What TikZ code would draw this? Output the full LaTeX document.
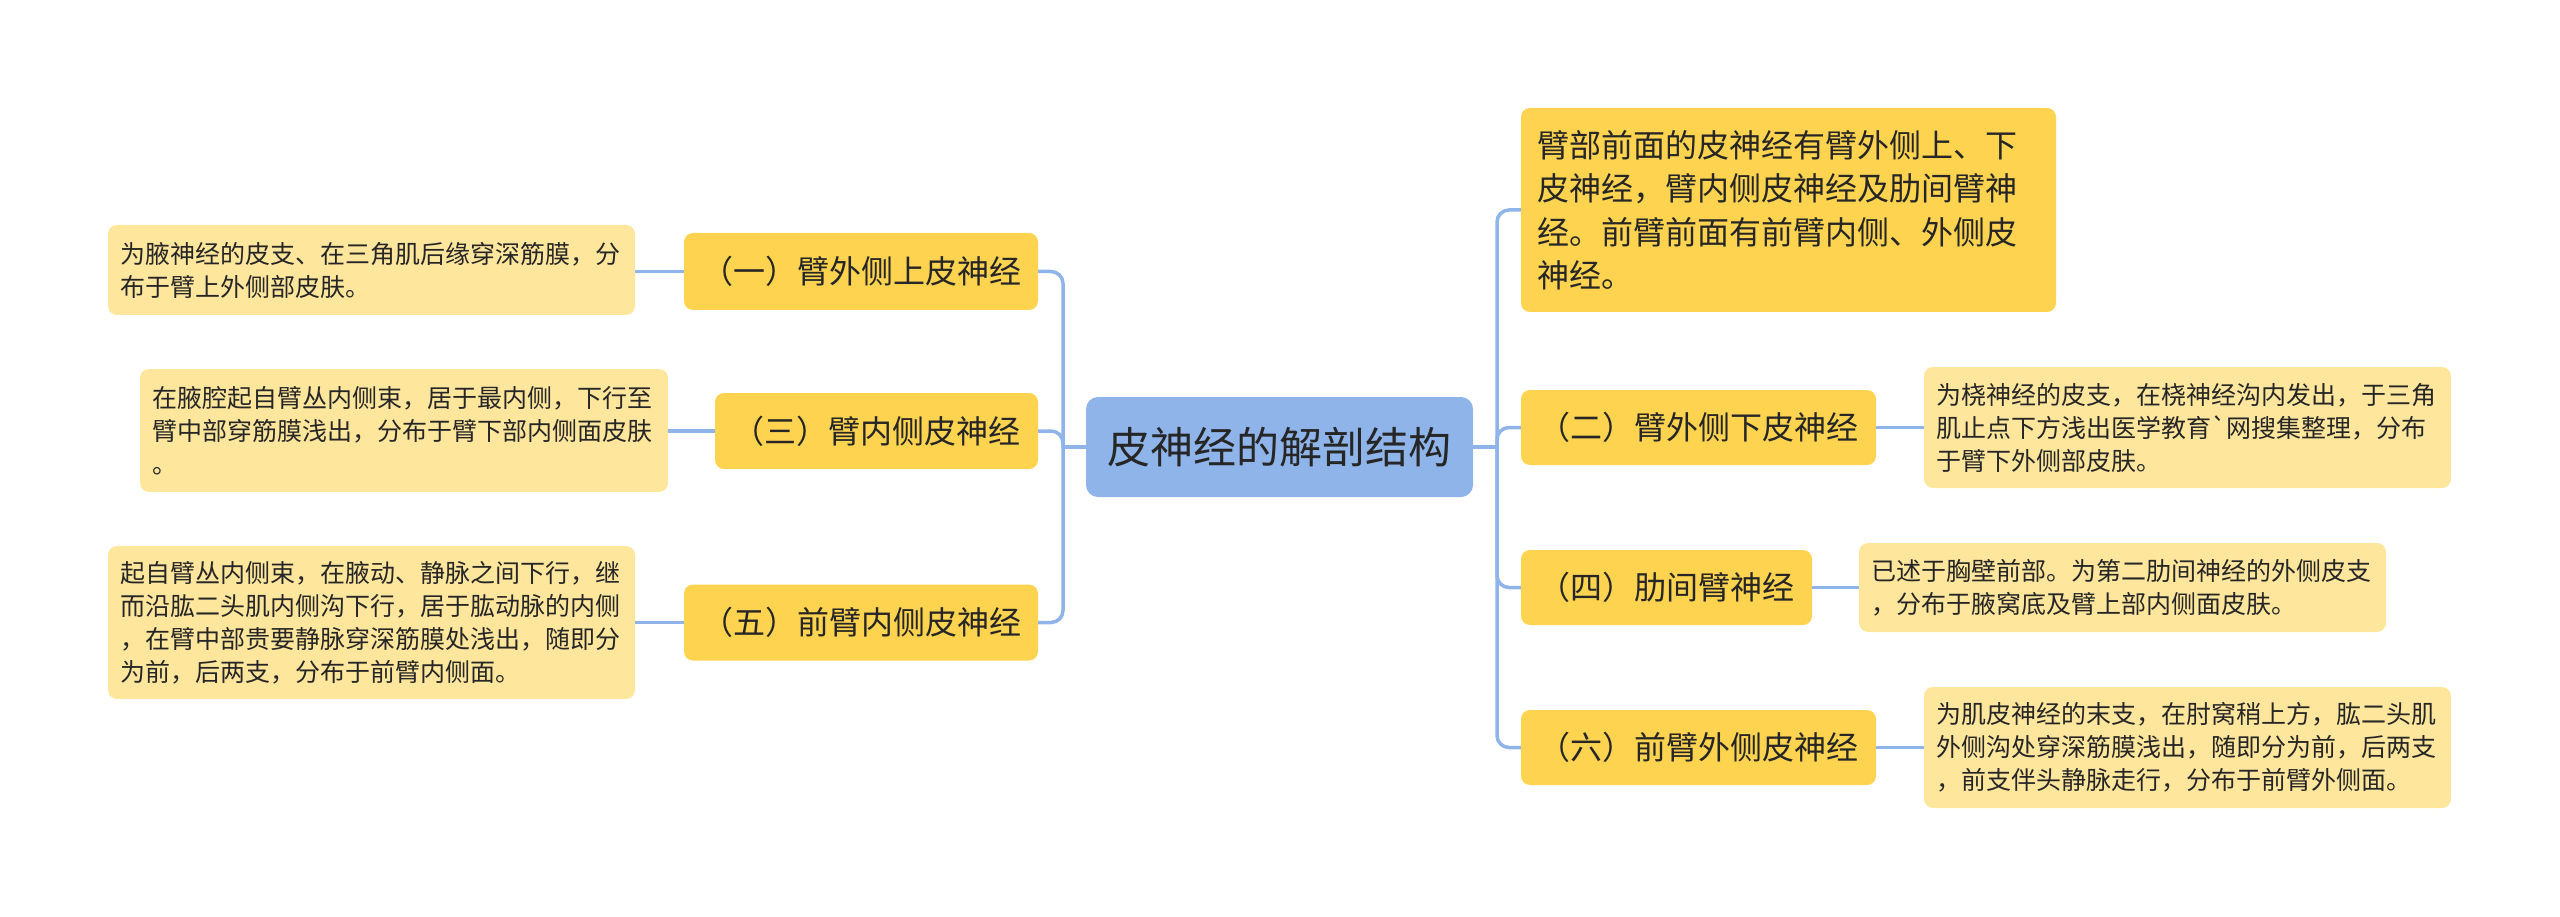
\documentclass[tikz,border=0pt]{standalone}
\usepackage{fontspec}
\newfontfamily\cjk{Noto Sans CJK SC}
\definecolor{rootc}{HTML}{8FB4E9}
\definecolor{mainc}{HTML}{FDD34F}
\definecolor{leafc}{HTML}{FEE69D}
\definecolor{linkc}{HTML}{8FB4E9}
\definecolor{txt}{HTML}{262626}
\tikzset{
  box/.style={rounded corners=9pt, inner sep=0pt, text=txt},
  rootbox/.style={box, fill=rootc, rounded corners=12pt, font=\cjk\fontsize{43}{52}\selectfont},
  mainbox/.style={box, fill=mainc, font=\cjk\fontsize{32}{43.5}\selectfont},
  bigbox/.style={box, fill=mainc, font=\cjk\fontsize{32}{43.5}\selectfont, align=left, inner xsep=16pt},
  leafbox/.style={box, fill=leafc, font=\cjk\fontsize{25}{33}\selectfont, align=left, inner xsep=12pt},
  link/.style={draw=linkc, line width=3.5pt, rounded corners=12pt},
}
\begin{document}
\begin{tikzpicture}[x=1pt, y=-1pt]
\useasboundingbox (0,0) rectangle (2560,917);
% root
\node[rootbox, minimum width=387pt, minimum height=100pt] (root) at (1279.5,447) {皮神经的解剖结构};
% left main nodes
\node[mainbox, minimum width=354pt, minimum height=77pt] (l1) at (861,271.5) {（一）臂外侧上皮神经};
\node[mainbox, minimum width=323pt, minimum height=76pt] (l3) at (876.5,431) {（三）臂内侧皮神经};
\node[mainbox, minimum width=354pt, minimum height=76pt] (l5) at (861,622.5) {（五）前臂内侧皮神经};
% left leaves
\node[leafbox, text width=503pt, minimum height=90pt] (ll1) at (371.5,270) {为腋神经的皮支、在三角肌后缘穿深筋膜，分\\布于臂上外侧部皮肤。};
\node[leafbox, text width=504pt, minimum height=123pt] (ll3) at (404,430.5) {在腋腔起自臂丛内侧束，居于最内侧，下行至\\臂中部穿筋膜浅出，分布于臂下部内侧面皮肤\\。};
\node[leafbox, text width=503pt, minimum height=153pt] (ll5) at (371.5,622.5) {起自臂丛内侧束，在腋动、静脉之间下行，继\\而沿肱二头肌内侧沟下行，居于肱动脉的内侧\\，在臂中部贵要静脉穿深筋膜处浅出，随即分\\为前，后两支，分布于前臂内侧面。};
% right main nodes
\node[bigbox, text width=503pt, minimum height=204pt] (r0) at (1788.5,210) {臂部前面的皮神经有臂外侧上、下\\皮神经，臂内侧皮神经及肋间臂神\\经。前臂前面有前臂内侧、外侧皮\\神经。};
\node[mainbox, minimum width=355pt, minimum height=75pt] (r2) at (1698.5,427.5) {（二）臂外侧下皮神经};
\node[mainbox, minimum width=291pt, minimum height=75pt] (r4) at (1666.5,587.5) {（四）肋间臂神经};
\node[mainbox, minimum width=355pt, minimum height=75pt] (r6) at (1698.5,747.5) {（六）前臂外侧皮神经};
% right leaves
\node[leafbox, text width=503pt, minimum height=121pt] (rl2) at (2187.5,427.5) {为桡神经的皮支，在桡神经沟内发出，于三角\\肌止点下方浅出医学教育`网搜集整理，分布\\于臂下外侧部皮肤。};
\node[leafbox, text width=503pt, minimum height=89pt] (rl4) at (2122.5,587.5) {已述于胸壁前部。为第二肋间神经的外侧皮支\\，分布于腋窝底及臂上部内侧面皮肤。};
\node[leafbox, text width=503pt, minimum height=121pt] (rl6) at (2187.5,747.5) {为肌皮神经的末支，在肘窝稍上方，肱二头肌\\外侧沟处穿深筋膜浅出，随即分为前，后两支\\，前支伴头静脉走行，分布于前臂外侧面。};
% junctions
\coordinate (lj) at (1063,447);
\coordinate (rj) at (1497,447);
% connectors
\draw[link] (root.west) -- (lj);
\draw[link] (root.east) -- (rj);
\draw[link] (lj) |- (l1.east);
\draw[link] (lj) |- (l3.east);
\draw[link] (lj) |- (l5.east);
\draw[link] (rj) |- (r0.west);
\draw[link] (rj) |- (r2.west);
\draw[link] (rj) |- (r4.west);
\draw[link] (rj) |- (r6.west);
\draw[link] (l1.west) -- (l1.west -| ll1.east);
\draw[link] (l3.west) -- (l3.west -| ll3.east);
\draw[link] (l5.west) -- (l5.west -| ll5.east);
\draw[link] (r2.east) -- (r2.east -| rl2.west);
\draw[link] (r4.east) -- (r4.east -| rl4.west);
\draw[link] (r6.east) -- (r6.east -| rl6.west);
\end{tikzpicture}
\end{document}
